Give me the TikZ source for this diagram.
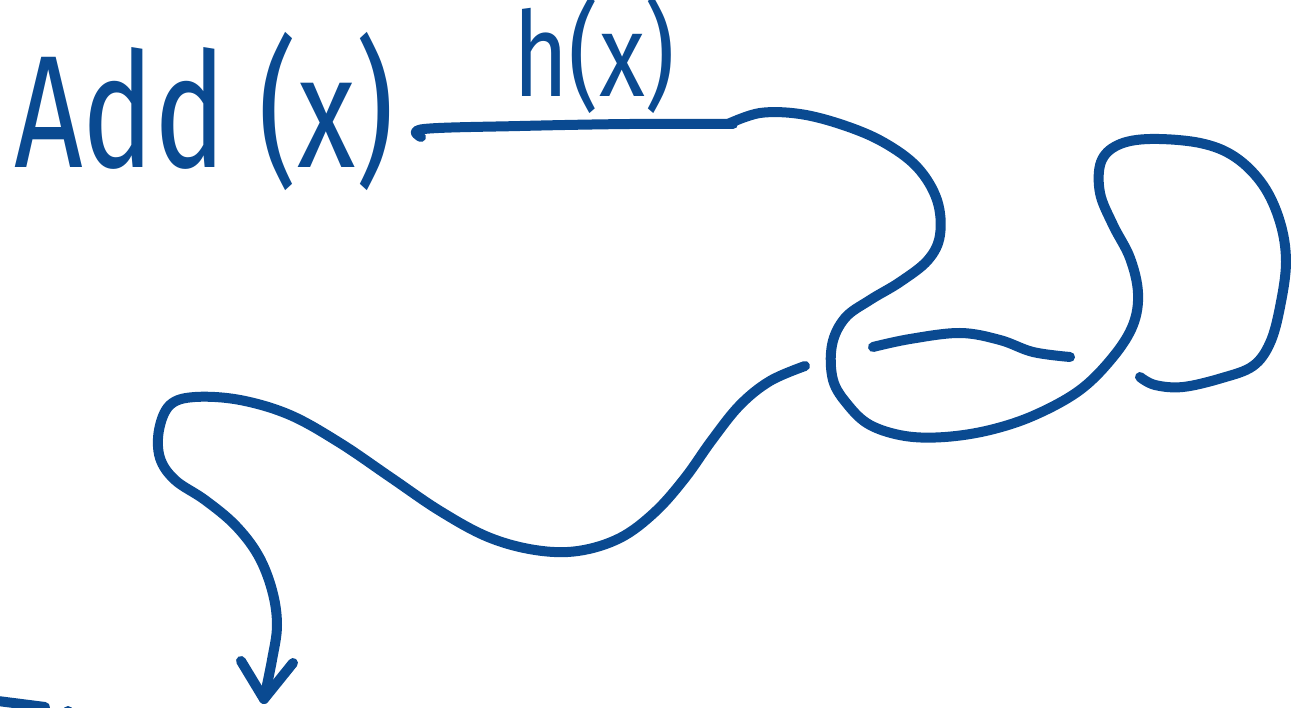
\documentclass[tikz,border=0pt]{standalone}
\usepackage{fontspec}
\setmainfont{Fira Sans}
\usepackage{tikz}
\usetikzlibrary{arrows.meta,calc}
\definecolor{Ink}{HTML}{0A4A91}

\begin{document}
\begin{tikzpicture}[
  x=1pt, y=-1pt,
  sk/.style={draw=Ink, line width=10pt, line cap=round, line join=round},
  hand/.style={text=Ink, inner sep=0pt, anchor=base west},
]
\useasboundingbox (0,0) rectangle (1291,708);
\clip (0,0) rectangle (1291,708);

%% ─ Labels ───────────────────────────────────────────────────────────────────
\node[hand, font=\fontsize{160}{160}\selectfont] (add) at (14,168)
     {\scalebox{0.75}[1]{Add (x)}};
\node[hand, font=\fontsize{118}{120}\selectfont] (hx)  at (513,97)
     {\scalebox{0.8}[1]{h(x)}};

%% ─ Top line and the loops ───────────────────────────────────────────────────
\coordinate (lstart) at (421,137);
\coordinate (lend)   at (733,124);
\draw[sk] plot[smooth, tension=0.6] coordinates
  {(lstart) (424,129) (520,126) (630,124) (lend)};
\draw[sk] plot[smooth, tension=0.6] coordinates
  {(728,124) (760,113) (800,114) (843,125) (883,142) (917,167) (937,200)
   (940,235) (928,260) (900,282) (870,300) (845,318) (832,345) (833,380)
   (848,405) (870,425) (905,436) (945,437) (990,430) (1035,415) (1080,390)
   (1113,357) (1133,325) (1138,293) (1130,258) (1113,225) (1100,193)
   (1101,162) (1118,145) (1150,139) (1200,143) (1235,157) (1263,185)
   (1280,222) (1286,262) (1280,307) (1270,343) (1253,366) (1222,378)
   (1183,387) (1155,385) (1140,377)};

%% ─ Middle stroke ────────────────────────────────────────────────────────────
\draw[sk] plot[smooth, tension=0.6] coordinates
  {(873,347) (910,339) (960,333) (1000,340) (1033,352) (1070,357)};

%% ─ Long S curve down to the arrow ───────────────────────────────────────────
\coordinate (tip) at (264,699);
\draw[sk] plot[smooth, tension=0.6] coordinates
  {(805,366) (770,381) (740,405) (712,440) (685,478) (655,512) (620,538)
   (578,551) (535,550) (488,537) (440,511) (390,477) (340,443) (290,415)
   (240,400) (195,397) (170,405) (159,430) (160,458) (175,480) (205,500)
   (235,525) (258,555) (272,590) (277,625) (272,660) (tip)};
\draw[sk] (241,661) -- (tip) -- (293,663);

%% ─ Stroke cut off at the bottom edge ────────────────────────────────────────
\draw[sk] (-10,700) -- (45,707);
\fill[Ink] (68,711) circle (5);

\end{tikzpicture}
\end{document}
